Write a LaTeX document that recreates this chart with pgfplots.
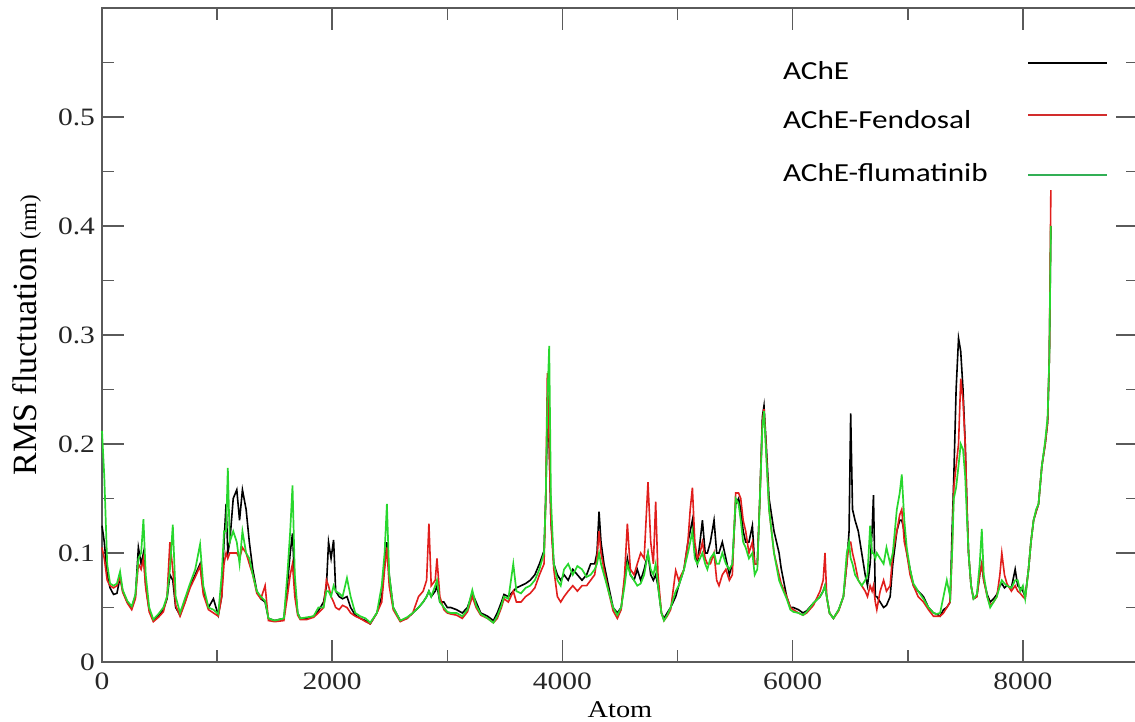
\documentclass[border=0pt]{standalone}
\usepackage{fontspec}
\setmainfont{Liberation Serif}[FakeStretch=1.18]
\newfontfamily\ylabfont{Liberation Serif}
\newfontfamily\legfont{Carlito}[FakeStretch=1.2]
\usepackage{pgfplots}
\usepackage{pgfplotstable}
\pgfplotsset{compat=1.18}
\definecolor{cred}{RGB}{225,30,28}
\definecolor{cgreen}{RGB}{40,215,45}
\definecolor{lred}{RGB}{210,45,45}
\definecolor{lgreen}{RGB}{50,175,85}
\definecolor{axgray}{RGB}{90,90,90}
\pgfplotstableread{
x B R G
0 0.125 0.105 0.212
20 0.11 0.095 0.17
45 0.08 0.075 0.09
70 0.068 0.07 0.072
100 0.062 0.068 0.07
130 0.063 0.07 0.072
157 0.078 0.078 0.083
180 0.065 0.064 0.066
220 0.055 0.054 0.056
258 0.05 0.048 0.051
290 0.06 0.058 0.062
316 0.105 0.09 0.095
340 0.09 0.085 0.1
360 0.1 0.095 0.131
380 0.07 0.068 0.08
410 0.048 0.046 0.05
446 0.038 0.037 0.039
490 0.042 0.041 0.044
533 0.048 0.046 0.05
565 0.058 0.06 0.06
590 0.08 0.11 0.085
615 0.075 0.085 0.126
640 0.05 0.052 0.06
678 0.043 0.042 0.045
720 0.055 0.054 0.058
765 0.07 0.068 0.072
810 0.08 0.078 0.085
852 0.09 0.088 0.108
880 0.065 0.062 0.07
925 0.05 0.048 0.05
968 0.058 0.045 0.048
1010 0.043 0.042 0.044
1040 0.06 0.06 0.08
1060 0.11 0.09 0.12
1078 0.145 0.1 0.12
1093 0.1 0.095 0.178
1110 0.11 0.1 0.11
1140 0.15 0.1 0.12
1171 0.158 0.1 0.11
1195 0.13 0.095 0.09
1220 0.158 0.105 0.12
1252 0.14 0.1 0.1
1280 0.11 0.09 0.095
1310 0.085 0.08 0.08
1345 0.065 0.063 0.065
1380 0.058 0.058 0.06
1417 0.055 0.07 0.056
1446 0.04 0.038 0.04
1500 0.038 0.037 0.038
1580 0.04 0.038 0.04
1610 0.07 0.06 0.08
1635 0.1 0.08 0.12
1655 0.118 0.09 0.162
1675 0.07 0.06 0.08
1700 0.045 0.043 0.045
1722 0.04 0.039 0.04
1780 0.04 0.039 0.041
1838 0.042 0.041 0.042
1880 0.047 0.045 0.05
1925 0.055 0.05 0.05
1950 0.07 0.075 0.065
1968 0.11 0.07 0.065
1990 0.095 0.06 0.06
2012 0.112 0.055 0.07
2030 0.065 0.05 0.065
2060 0.06 0.048 0.063
2090 0.058 0.052 0.06
2128 0.06 0.05 0.077
2160 0.05 0.045 0.06
2200 0.043 0.042 0.045
2243 0.04 0.04 0.042
2290 0.038 0.037 0.04
2330 0.035 0.035 0.036
2388 0.045 0.045 0.045
2430 0.06 0.055 0.07
2455 0.09 0.085 0.1
2475 0.11 0.105 0.145
2495 0.08 0.07 0.08
2530 0.05 0.048 0.05
2591 0.038 0.037 0.038
2650 0.04 0.04 0.041
2700 0.045 0.045 0.045
2750 0.05 0.06 0.05
2790 0.055 0.065 0.055
2820 0.06 0.075 0.06
2840 0.065 0.127 0.065
2860 0.06 0.07 0.06
2895 0.065 0.075 0.07
2910 0.07 0.095 0.075
2935 0.055 0.06 0.055
2970 0.055 0.048 0.05
3000 0.05 0.045 0.046
3030 0.05 0.044 0.045
3080 0.048 0.043 0.045
3130 0.045 0.04 0.042
3175 0.05 0.046 0.048
3217 0.063 0.06 0.066
3250 0.055 0.05 0.052
3290 0.045 0.043 0.044
3350 0.042 0.04 0.04
3400 0.038 0.036 0.036
3434 0.045 0.04 0.042
3470 0.055 0.05 0.052
3492 0.062 0.058 0.06
3530 0.06 0.055 0.058
3573 0.065 0.065 0.09
3600 0.068 0.055 0.065
3640 0.07 0.055 0.063
3680 0.072 0.06 0.068
3720 0.075 0.063 0.07
3760 0.08 0.068 0.075
3800 0.09 0.08 0.085
3840 0.102 0.09 0.1
3855 0.15 0.15 0.15
3869 0.22 0.265 0.24
3885 0.2 0.2 0.29
3900 0.13 0.13 0.15
3925 0.09 0.085 0.09
3956 0.08 0.06 0.075
3985 0.075 0.055 0.07
4014 0.08 0.06 0.085
4050 0.075 0.065 0.09
4090 0.085 0.07 0.08
4130 0.08 0.065 0.088
4170 0.075 0.07 0.085
4210 0.08 0.07 0.078
4245 0.09 0.075 0.08
4280 0.09 0.08 0.085
4300 0.1 0.095 0.09
4318 0.138 0.12 0.1
4335 0.11 0.1 0.09
4361 0.09 0.085 0.08
4400 0.07 0.065 0.065
4440 0.05 0.047 0.05
4477 0.045 0.04 0.043
4510 0.05 0.048 0.05
4540 0.075 0.08 0.07
4564 0.095 0.127 0.09
4590 0.08 0.085 0.08
4622 0.075 0.08 0.075
4650 0.085 0.09 0.07
4680 0.075 0.1 0.072
4710 0.085 0.095 0.08
4743 0.1 0.165 0.1
4767 0.08 0.11 0.085
4790 0.075 0.09 0.08
4810 0.08 0.147 0.09
4830 0.07 0.08 0.07
4860 0.045 0.045 0.045
4882 0.04 0.038 0.038
4910 0.045 0.042 0.043
4940 0.05 0.048 0.05
4984 0.06 0.084 0.065
5010 0.07 0.075 0.07
5056 0.085 0.085 0.085
5090 0.11 0.11 0.1
5110 0.12 0.14 0.11
5129 0.13 0.16 0.12
5150 0.1 0.11 0.095
5172 0.09 0.095 0.09
5195 0.11 0.1 0.095
5216 0.13 0.11 0.1
5240 0.1 0.095 0.09
5259 0.1 0.09 0.085
5285 0.11 0.09 0.095
5317 0.13 0.1 0.1
5340 0.1 0.075 0.09
5360 0.1 0.07 0.09
5389 0.11 0.08 0.1
5420 0.095 0.085 0.09
5450 0.08 0.075 0.085
5476 0.09 0.08 0.09
5505 0.145 0.155 0.15
5530 0.15 0.155 0.145
5549 0.14 0.15 0.13
5570 0.12 0.13 0.11
5592 0.11 0.12 0.105
5620 0.11 0.1 0.095
5650 0.125 0.11 0.1
5670 0.09 0.09 0.08
5693 0.09 0.09 0.085
5715 0.15 0.15 0.15
5737 0.225 0.22 0.215
5751 0.235 0.232 0.23
5770 0.2 0.195 0.19
5795 0.15 0.14 0.14
5838 0.12 0.1 0.1
5882 0.1 0.08 0.075
5900 0.086 0.072 0.07
5948 0.06 0.06 0.058
5980 0.05 0.05 0.048
6006 0.05 0.048 0.046
6050 0.048 0.045 0.045
6090 0.045 0.043 0.043
6122 0.047 0.045 0.046
6180 0.054 0.052 0.054
6238 0.06 0.065 0.06
6265 0.065 0.075 0.065
6281 0.07 0.1 0.07
6296 0.06 0.06 0.06
6320 0.045 0.045 0.045
6354 0.04 0.04 0.04
6400 0.048 0.047 0.048
6441 0.06 0.06 0.06
6470 0.09 0.09 0.1
6490 0.12 0.11 0.11
6504 0.228 0.11 0.095
6520 0.14 0.1 0.09
6542 0.13 0.09 0.08
6570 0.12 0.075 0.075
6600 0.1 0.07 0.07
6630 0.08 0.065 0.075
6650 0.07 0.06 0.08
6673 0.09 0.07 0.125
6690 0.12 0.065 0.1
6702 0.153 0.07 0.1
6718 0.06 0.055 0.095
6731 0.06 0.048 0.1
6760 0.055 0.065 0.095
6790 0.05 0.075 0.09
6815 0.052 0.065 0.105
6847 0.06 0.07 0.09
6870 0.09 0.1 0.1
6905 0.12 0.12 0.14
6930 0.13 0.135 0.155
6948 0.13 0.14 0.172
6970 0.12 0.11 0.13
6991 0.1 0.1 0.105
7020 0.085 0.08 0.085
7049 0.07 0.07 0.072
7090 0.065 0.06 0.065
7136 0.06 0.055 0.058
7180 0.05 0.048 0.05
7223 0.045 0.042 0.045
7250 0.044 0.042 0.044
7281 0.042 0.042 0.045
7310 0.048 0.045 0.06
7339 0.05 0.05 0.075
7368 0.055 0.055 0.06
7385 0.12 0.1 0.1
7400 0.17 0.16 0.15
7420 0.25 0.18 0.16
7441 0.297 0.2 0.18
7460 0.285 0.26 0.2
7480 0.25 0.24 0.195
7499 0.2 0.2 0.17
7515 0.14 0.14 0.13
7528 0.1 0.1 0.1
7550 0.07 0.07 0.07
7571 0.058 0.058 0.058
7600 0.06 0.06 0.062
7625 0.08 0.08 0.09
7643 0.09 0.09 0.122
7660 0.075 0.075 0.08
7690 0.062 0.06 0.06
7716 0.055 0.052 0.05
7745 0.058 0.055 0.055
7774 0.062 0.06 0.06
7800 0.07 0.08 0.07
7817 0.072 0.1 0.075
7840 0.068 0.08 0.072
7861 0.07 0.072 0.07
7900 0.068 0.065 0.068
7933 0.085 0.07 0.075
7955 0.07 0.065 0.075
7977 0.068 0.063 0.065
8000 0.065 0.06 0.07
8020 0.06 0.058 0.058
8049 0.085 0.085 0.085
8070 0.11 0.11 0.11
8093 0.13 0.13 0.13
8115 0.138 0.138 0.14
8136 0.145 0.145 0.145
8165 0.18 0.18 0.18
8194 0.2 0.2 0.203
8215 0.22 0.22 0.225
8230 0.28 0.28 0.28
8243 0.4 0.433 0.4
}\rmsf
\begin{document}
\begin{tikzpicture}
\begin{axis}[
  scale only axis,
  width=518pt, height=327pt,
  xmin=0, xmax=9000, ymin=0, ymax=0.6,
  xtick={0,2000,...,8000},
  minor x tick num=1,
  ytick={0,0.1,...,0.5},
  minor ytick={0.05,0.15,...,0.55},
  tick align=inside,
  major tick length=11pt, minor tick length=6pt,
  every tick/.style={color=axgray, line width=0.8pt},
  axis line style={color=axgray, line width=0.8pt},
  /pgf/number format/assume math mode=true,
  /pgf/number format/1000 sep={},
  yticklabel style={/pgf/number format/fixed, /pgf/number format/precision=1},
  tick label style={font=\fontsize{12.5}{14}\selectfont, color=black!85},
  xticklabel style={yshift=-2pt},
  xlabel={Atom},
  xlabel style={at={(axis description cs:0.5,0)}, anchor=base, yshift=-28pt, font=\fontsize{12}{14}\selectfont, inner sep=0pt},
  ylabel={\ylabfont\fontsize{17}{18}\selectfont RMS fluctuation \fontsize{11.5}{13}\selectfont(nm)},
  ylabel style={at={(axis description cs:-0.0585,0.5)}, anchor=south, inner sep=0pt, rotate=0},
  clip=false,
]
\addplot[black, line width=0.8pt] table[x=x, y=B] {\rmsf};
\addplot[cred, line width=0.8pt] table[x=x, y=R] {\rmsf};
\addplot[cgreen, line width=0.85pt] table[x=x, y=G] {\rmsf};
\node[anchor=base west, inner sep=0pt, font=\legfont\fontsize{13}{15}\selectfont] at (rel axis cs:0.657,0.890) {AChE};
\node[anchor=base west, inner sep=0pt, font=\legfont\fontsize{13}{15}\selectfont] at (rel axis cs:0.657,0.8165) {AChE-Fendosal};
\node[anchor=base west, inner sep=0pt, font=\legfont\fontsize{13}{15}\selectfont] at (rel axis cs:0.657,0.7345) {AChE-flumatinib};
\draw[black, line width=1.1pt] (rel axis cs:0.894,0.916) -- (rel axis cs:0.970,0.916);
\draw[lred, line width=1.1pt] (rel axis cs:0.894,0.836) -- (rel axis cs:0.970,0.836);
\draw[lgreen, line width=1.1pt] (rel axis cs:0.894,0.745) -- (rel axis cs:0.970,0.745);
\end{axis}
\pgfresetboundingbox
\useasboundingbox (-51pt,-30pt) rectangle (516.5pt,331pt);
\end{tikzpicture}
\end{document}
